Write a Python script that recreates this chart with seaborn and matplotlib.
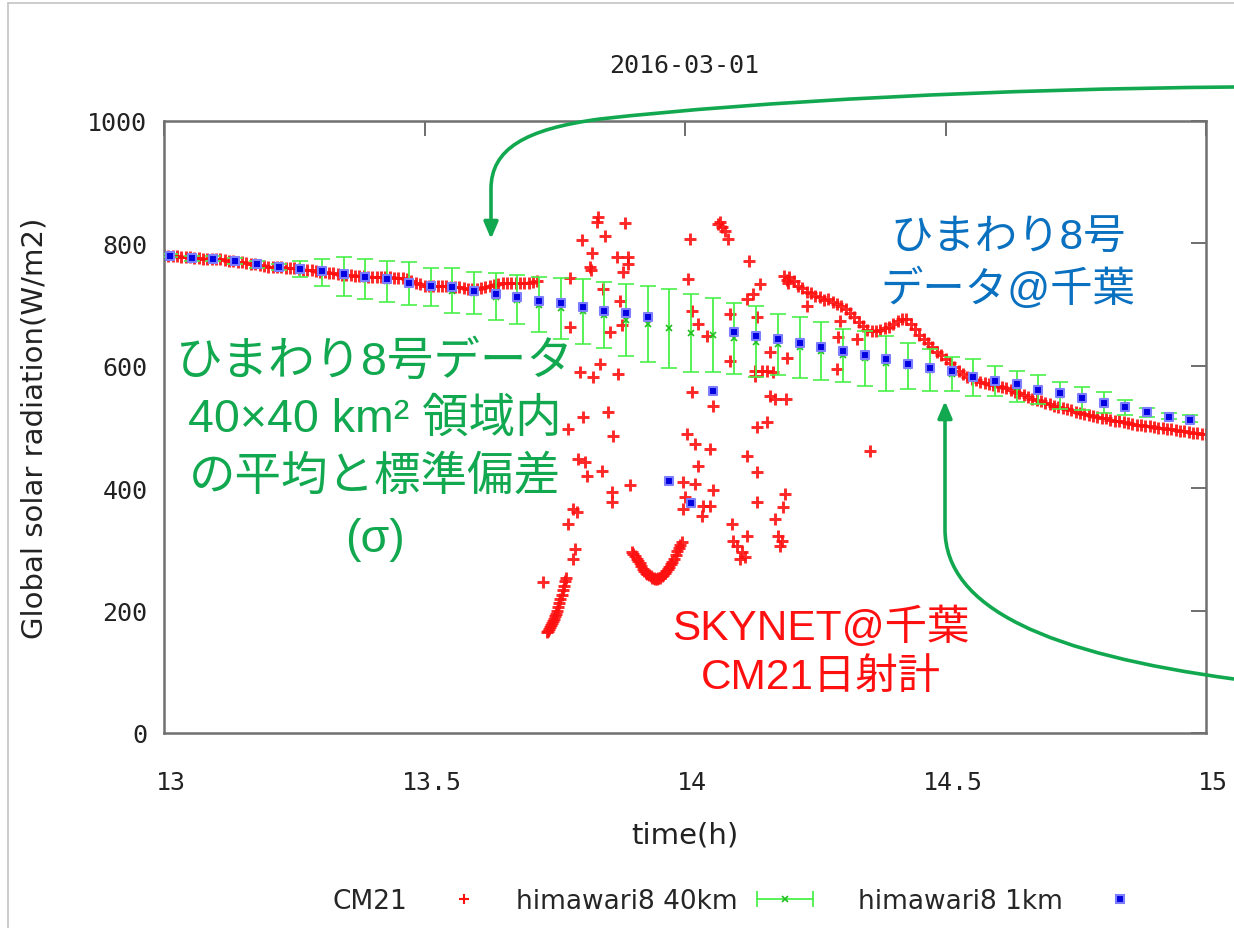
import numpy as np
import pandas as pd
import matplotlib
matplotlib.use("Agg")
import matplotlib.pyplot as plt
import matplotlib.transforms as mtransforms
import seaborn as sns
from matplotlib.lines import Line2D
from matplotlib.path import Path
from matplotlib.patches import FancyArrowPatch
from matplotlib.legend_handler import HandlerLine2D, HandlerTuple

# ---------------- data ----------------
title_text = "2016-03-01"
x_label = "time(h)"
y_label = "Global solar radiation(W/m2)"
x_ticks = [13, 13.5, 14, 14.5, 15]
x_tick_labels = ["13", "13.5", "14", "14.5", "15"]
y_ticks = [0, 200, 400, 600, 800, 1000]
legend_labels = ["CM21", "himawari8 40km", "himawari8 1km"]

# CM21 at SKYNET Chiba: 30-second samples during the clear spells
cm21_step_h = 30.0 / 3600.0
cm21_am_start = 13.0
cm21_am = [781, 780, 779, 779, 778, 778, 777, 776, 776, 775,
           775, 775, 774, 774, 773, 772, 771, 770, 769, 768,
           767, 766, 764, 763, 762, 762, 761, 761, 760, 759,
           759, 758, 757, 757, 756, 755, 754, 753, 752, 751,
           750, 749, 748, 748, 747, 746, 746, 745, 745, 745,
           745, 745, 745, 744, 744, 743, 742, 739, 735, 733,
           731, 731, 731, 730, 730, 730, 729, 728, 728, 727,
           726, 726, 726, 727, 729, 730, 732, 733, 735, 736,
           736, 735, 735, 735, 736, 737, 739]
cm21_pm_start = 14.2
cm21_pm = [745, 739, 731, 727, 721, 719, 714, 712, 707, 709,
           705, 701, 697, 692, 686, 680, 672, 665, 659, 657,
           657, 659, 661, 664, 668, 673, 677, 676, 668, 660,
           651, 644, 637, 630, 623, 617, 611, 605, 598, 591,
           586, 582, 578, 576, 574, 572, 570, 569, 567, 565,
           563, 561, 558, 555, 552, 549, 546, 544, 542, 539,
           537, 535, 533, 531, 529, 527, 525, 523, 521, 519,
           518, 516, 515, 514, 512, 510, 509, 508, 507, 505,
           504, 503, 502, 501, 500, 499, 498, 497, 496, 495,
           494, 493, 492, 491, 490, 489, 489]

# CM21 during the broken-cloud period (time in h, W/m2)
cm21_cloud_t = [13.727,
                13.735, 13.737, 13.739, 13.741, 13.743, 13.745, 13.747, 13.749, 13.751, 13.753,
                13.755, 13.757, 13.759, 13.761, 13.763, 13.765, 13.767, 13.769, 13.771,
                13.775, 13.775, 13.779, 13.779, 13.785, 13.785, 13.789, 13.793, 13.795, 13.798,
                13.802, 13.804, 13.808, 13.812, 13.818, 13.820, 13.822, 13.823, 13.831, 13.833,
                13.837, 13.841, 13.843, 13.846, 13.852, 13.856, 13.860, 13.860, 13.862, 13.869,
                13.871, 13.875, 13.879, 13.881, 13.885, 13.891, 13.891, 13.894,
                13.898, 13.901, 13.904, 13.907, 13.910, 13.913, 13.916, 13.919, 13.922, 13.925,
                13.928, 13.931, 13.934, 13.937, 13.940, 13.943, 13.946, 13.949, 13.952, 13.955,
                13.958, 13.961, 13.964, 13.967, 13.970, 13.973, 13.976, 13.979, 13.982, 13.985,
                13.988, 13.991, 13.994,
                13.996, 13.996, 14.000, 14.004, 14.006, 14.010, 14.013, 14.013, 14.019, 14.019,
                14.025, 14.025, 14.033, 14.035, 14.042, 14.048, 14.048, 14.054, 14.054, 14.063,
                14.067, 14.071, 14.077, 14.083, 14.086, 14.086, 14.090, 14.092, 14.100, 14.106,
                14.109, 14.115, 14.119, 14.119, 14.119, 14.123, 14.131, 14.134, 14.134, 14.138,
                14.138, 14.138, 14.138, 14.144, 14.148, 14.157, 14.157, 14.163, 14.163, 14.169,
                14.173, 14.173, 14.178, 14.182, 14.186, 14.188, 14.190, 14.192, 14.193, 14.195,
                14.196, 14.198,
                14.234, 14.294, 14.297, 14.292, 14.330, 14.355]
cm21_cloud_v = [247,
                165, 167, 170, 173, 176, 179, 183, 187, 191, 195,
                200, 206, 212, 219, 226, 234, 241, 248, 254,
                497, 342, 743, 663, 366, 284, 301, 361, 448, 590,
                806, 516, 443, 420, 761, 756, 784, 582, 835, 843,
                603, 428, 725, 812, 525, 656, 394, 377, 485, 778,
                587, 706, 667, 753, 833, 766, 778, 405,
                296, 292, 289, 285, 281, 277, 273, 268, 265, 262,
                260, 258, 256, 254, 253, 252, 252, 253, 254, 256,
                258, 261, 264, 268, 272, 276, 280, 285, 291, 297,
                303, 308, 312,
                410, 366, 386, 489, 742, 807, 690, 557, 472, 407,
                668, 436, 355, 371, 649, 464, 371, 534, 397, 832,
                835, 827, 820, 807, 685, 608, 342, 314, 306, 284,
                296, 288, 453, 322, 709, 771, 717, 583, 592, 680,
                500, 426, 377, 734, 592, 508, 592, 623, 551, 590,
                546, 350, 322, 306, 314, 369, 747, 391, 546, 740,
                612, 735,
                698, 647, 673, 595, 644, 461]

# Himawari-8 (every 2.5 min), minutes after 13:00
hima_minutes = [0.7, 3.2, 5.7, 8.2, 10.7, 13.2, 15.7, 18.2, 20.7, 23.2,
                25.7, 28.2, 30.7, 33.2, 35.7, 38.2, 40.7, 43.2, 45.7, 48.2,
                50.7, 53.2, 55.7, 58.2, 60.7, 63.2, 65.7, 68.2, 70.7, 73.2,
                75.7, 78.2, 80.7, 83.2, 85.7, 88.2, 90.7, 93.2, 95.7, 98.2,
                100.7, 103.2, 105.7, 108.2, 110.7, 113.2, 115.7, 118.2]
hima_40km_mean = [780, 776, 775, 771, 766, 761, 758, 753, 746, 742,
                  738, 734, 729, 723, 719, 713, 708, 700, 694, 689,
                  683, 675, 668, 661, 654, 650, 645, 639, 635, 630,
                  624, 617, 612, 604, 600, 593, 587, 581, 575, 566,
                  561, 552, 547, 540, 532, 524, 518, 514]
hima_40km_sd = [3, 4, 4, 5, 6, 5, 13, 22, 32, 33,
                34, 35, 31, 36, 34, 38, 40, 45, 50, 53,
                54, 59, 62, 65, 64, 60, 58, 58, 50, 50,
                47, 43, 45, 45, 38, 34, 28, 30, 25, 25,
                24, 22, 19, 17, 12, 7, 5, 6]
hima_1km = [780, 776, 775, 771, 766, 761, 758, 755, 750, 745,
            742, 736, 731, 728, 723, 717, 712, 706, 702, 696,
            689, 686, 679, 411, 376, 559, 656, 649, 643, 637,
            631, 625, 618, 611, 603, 596, 591, 582, 575, 570,
            561, 556, 547, 540, 532, 524, 517, 511]

# annotation texts
note_green = ["ひまわり8号データ", "40×40 km² 領域内", "の平均と標準偏差", "(σ)"]
note_blue = ["ひまわり8号", "データ@千葉"]
note_red = ["SKYNET@千葉", "CM21日射計"]

# ---------------- tables ----------------
cm21_t = ([cm21_am_start + i * cm21_step_h for i in range(len(cm21_am))]
          + [cm21_pm_start + i * cm21_step_h for i in range(len(cm21_pm))]
          + list(cm21_cloud_t))
cm21_v = list(cm21_am) + list(cm21_pm) + list(cm21_cloud_v)
df_cm21 = pd.DataFrame({"time": cm21_t, "rad": cm21_v})
hima_t = [13.0 + m / 60.0 for m in hima_minutes]
df_hima = pd.DataFrame({"time": hima_t, "mean40": hima_40km_mean,
                        "sd40": hima_40km_sd, "r1km": hima_1km})

# ---------------- style ----------------
W, H, DPI = 1234, 929, 100
sns.set_style("white")
plt.rcParams["font.family"] = ["DejaVu Sans", "Noto Sans CJK JP"]

RED = "#ff1010"
GREEN_BAR = "#4af04a"
GREEN_X = "#1fbf1f"
BLUE = "#0000e0"
BLUE_EDGE = "#7d7dff"
ANN_GREEN = "#11a84f"
ANN_BLUE = "#0a70c0"
AXIS_GRAY = "#707070"

fig = plt.figure(figsize=(W / DPI, H / DPI), dpi=DPI)
fig.patch.set_facecolor("white")


def fx(px):
    return px / W


def fy(py):
    return 1 - py / H


ax = fig.add_axes([fx(164), fy(734), (1206 - 164) / W, (734 - 122) / H])

sns.scatterplot(data=df_cm21, x="time", y="rad", ax=ax, marker="+", s=72,
                color=RED, linewidth=2.1, alpha=0.9, zorder=2, legend=False)
ax.errorbar(df_hima["time"], df_hima["mean40"], yerr=df_hima["sd40"], fmt="x",
            color=GREEN_X, markersize=5, markeredgewidth=1.2,
            ecolor=GREEN_BAR, elinewidth=1.3, capsize=5.5, capthick=1.3, zorder=3)
sns.scatterplot(data=df_hima, x="time", y="r1km", ax=ax, marker="s", s=30,
                color=BLUE, edgecolor=BLUE_EDGE, linewidth=1.5, zorder=4, legend=False)

ax.set_xlim(13, 15)
ax.set_ylim(0, 1000)
ax.set_xticks(x_ticks)
ax.set_xticklabels(x_tick_labels)
ax.set_yticks(y_ticks)
ax.set_xlabel("")
ax.set_ylabel("")
for sp in ax.spines.values():
    sp.set_visible(True)
    sp.set_color(AXIS_GRAY)
    sp.set_linewidth(1.8)
ax.tick_params(axis="both", which="major", direction="in", length=10.5, width=1.2,
               color="#555555", top=True, right=True, labelcolor="#222222",
               labelsize=18, labelfontfamily="DejaVu Sans Mono")
ax.tick_params(axis="x", pad=27)
ax.tick_params(axis="y", pad=12)
offset = mtransforms.ScaledTranslation(7 / DPI, 0, fig.dpi_scale_trans)
for lab in ax.get_xticklabels():
    lab.set_transform(lab.get_transform() + offset)

# titles / labels
fig.text(fx(684), fy(66), title_text, ha="center", va="center", fontsize=18,
         family="DejaVu Sans Mono", color="#222222")
fig.text(fx(685), fy(836), x_label, ha="center", va="center", fontsize=21, color="#222222")
fig.text(fx(35), fy(428), y_label, ha="center", va="center", rotation=90,
         fontsize=21, color="#222222")

# annotations
ann_family = ["Liberation Sans", "Noto Sans CJK JP"]
for txt, yy in zip(note_green, [363, 420, 478, 540]):
    fig.text(fx(375), fy(yy), txt, ha="center", va="center", fontsize=33.5,
             color=ANN_GREEN, family=ann_family)
for txt, yy in zip(note_blue, [238, 290]):
    fig.text(fx(1008), fy(yy), txt, ha="center", va="center", fontsize=30.5,
             color=ANN_BLUE, family=ann_family)
for txt, yy in zip(note_red, [628, 678]):
    fig.text(fx(821), fy(yy), txt, ha="center", va="center", fontsize=30.5,
             color=RED, family=ann_family)

# curved arrows (pixel layout coordinates of the figure)
px_tr = mtransforms.Affine2D().scale(1 / W, -1 / H).translate(0, 1) + fig.transFigure
arrow1 = Path([(1234, 88), (1000, 90), (760, 102), (600, 120),
               (525, 130), (491, 150), (491, 190), (491, 240)],
              [Path.MOVETO, Path.CURVE4, Path.CURVE4, Path.CURVE4,
               Path.CURVE4, Path.CURVE4, Path.CURVE4, Path.LINETO])
arrow2 = Path([(1234, 680), (1050, 655), (945, 610), (945, 530), (945, 402)],
              [Path.MOVETO, Path.CURVE4, Path.CURVE4, Path.CURVE4, Path.LINETO])
for pth in (arrow1, arrow2):
    fa = FancyArrowPatch(path=pth, arrowstyle="-|>,head_length=0.4,head_width=0.17",
                         mutation_scale=25, color=ANN_GREEN, lw=2.6,
                         transform=px_tr, clip_on=False)
    fig.add_artist(fa)

# thin border of the original screenshot
fig.add_artist(Line2D([fx(8), fx(8)], [fy(4), fy(929)], color="#c4c4c4", lw=1.2))
fig.add_artist(Line2D([fx(8), fx(1234)], [fy(4), fy(4)], color="#c4c4c4", lw=1.2))

# legend (gnuplot style: text then sample)
h_cm21 = Line2D([], [], ls="none", marker="+", color=RED, markersize=7, markeredgewidth=1.5)
h_caps = Line2D([], [], color=GREEN_BAR, lw=1.3, marker="|", markersize=11,
                markeredgewidth=1.3)
h_x = Line2D([], [], ls="none", marker="x", color=GREEN_X, markersize=5, markeredgewidth=1.2)
h_1km = Line2D([], [], ls="none", marker="s", markersize=5.3, markerfacecolor=BLUE,
               markeredgecolor=BLUE_EDGE, markeredgewidth=1.5)
fs_leg = 19
entries = [([h_cm21], legend_labels[0], 333, 0.76, {}),
           ([(h_caps, h_x)], legend_labels[1], 516, 0.42,
            {h_caps: HandlerLine2D(numpoints=2), h_x: HandlerLine2D(numpoints=1),
             tuple: HandlerTuple(ndivide=1)}),
           ([h_1km], legend_labels[2], 858, 0.8, {})]
for handles, label, xstart, pad, hmap in entries:
    fig.legend(handles=handles, labels=[label], loc="center left",
               bbox_to_anchor=(fx(xstart), fy(902)), bbox_transform=fig.transFigure,
               frameon=False, markerfirst=False, borderpad=0, borderaxespad=0,
               handlelength=2.73, handletextpad=pad, fontsize=fs_leg,
               handler_map=hmap if hmap else None)

fig.savefig("out.png", dpi=DPI, facecolor="white")
